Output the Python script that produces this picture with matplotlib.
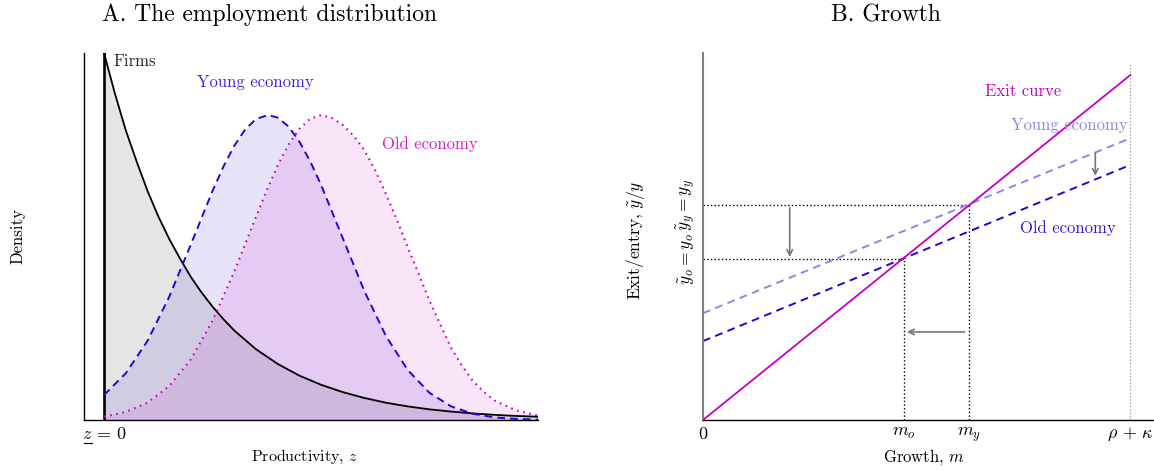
import numpy as np
import matplotlib
matplotlib.use("Agg")
import matplotlib.pyplot as plt
from matplotlib.lines import Line2D

plt.rcParams['font.family'] = 'serif'
plt.rcParams['font.serif'] = ['cmr10', 'DejaVu Serif']
plt.rcParams['mathtext.fontset'] = 'cm'
plt.rcParams['axes.formatter.use_mathtext'] = True

# ---- panel A: densities ----
firms_z = [0.0, 0.25, 0.5, 0.75, 1.0, 1.25, 1.5, 1.75, 2.0, 2.25, 2.5, 2.75,
           3.0, 3.5, 4.0, 4.5, 5.0, 5.5, 6.0, 6.5, 7.0, 7.5, 8.0, 8.5, 9.0,
           9.5, 10.0]
firms_d = [1.0, 0.89, 0.79, 0.705, 0.625, 0.555, 0.494, 0.44, 0.39, 0.347,
           0.309, 0.275, 0.244, 0.193, 0.153, 0.121, 0.096, 0.076, 0.06,
           0.047, 0.037, 0.029, 0.023, 0.018, 0.014, 0.011, 0.009]

young_z = [0.0, 0.5, 1.0, 1.5, 2.0, 2.5, 2.75, 3.0, 3.25, 3.5, 3.78, 4.0,
           4.25, 4.5, 4.75, 5.0, 5.5, 6.0, 6.5, 7.0, 7.5, 8.0, 8.5, 9.0,
           9.5, 10.0]
young_d = [0.068, 0.127, 0.215, 0.335, 0.478, 0.624, 0.69, 0.747, 0.791,
           0.82, 0.831, 0.824, 0.8, 0.759, 0.705, 0.641, 0.496, 0.351, 0.228,
           0.136, 0.074, 0.037, 0.017, 0.007, 0.003, 0.001]

old_z = [0.0, 0.5, 1.0, 1.5, 2.0, 2.5, 3.0, 3.25, 3.5, 3.75, 4.0, 4.25, 4.5,
         4.75, 5.01, 5.25, 5.5, 5.75, 6.0, 6.25, 6.5, 6.75, 7.0, 7.25, 7.5,
         7.75, 8.0, 8.25, 8.5, 8.75, 9.0, 9.5, 10.0]
old_d = [0.009, 0.022, 0.047, 0.092, 0.165, 0.27, 0.404, 0.478, 0.553, 0.626,
         0.693, 0.75, 0.793, 0.821, 0.831, 0.823, 0.804, 0.775, 0.735, 0.68,
         0.615, 0.545, 0.47, 0.398, 0.325, 0.26, 0.196, 0.148, 0.106, 0.077,
         0.053, 0.026, 0.012]

# ---- panel B: lines and equilibria ----
m_ends = [0.0, 1.0]
exit_y = [0.0, 0.940]
young_y = [0.291, 0.768]
old_y = [0.215, 0.695]
m_o, y_o = 0.4696, 0.440
m_y, y_y = 0.6215, 0.586
rho_kappa = 1.0

blue = '#2c00d4'
magenta = '#c400c4'
lightpurple = '#9483e6'

fig = plt.figure(figsize=(11.54, 4.70), dpi=100)
ax1 = fig.add_axes([84/1154, 50/470, 454/1154, 367/470])
ax2 = fig.add_axes([703/1154, 50/470, 451/1154 - 0.0005, 367/470])

# panel A
ax1.fill_between(firms_z, firms_d, color='#808080', alpha=0.2, lw=0)
ax1.fill_between(young_z, young_d, color='#4020d0', alpha=0.12, lw=0)
ax1.fill_between(old_z, old_d, color='#c000c0', alpha=0.1, lw=0)
ax1.plot(firms_z, firms_d, color='black', lw=1.3)
ax1.plot([0, 0], [0, firms_d[0]], color='black', lw=1.9)
ax1.plot(young_z, young_d, color=blue, lw=1.4, ls=(0, (4, 2.6)))
ax1.plot(old_z, old_d, color=magenta, lw=1.5, ls=(0, (0.8, 2.2)))

ax1.text(0.207, 0.978, 'Firms', color='#222222', fontsize=12, va='center', ha='left')
ax1.text(3.48, 0.921, 'Young economy', color='#4a22d0', fontsize=12, ha='center', va='center')
ax1.text(7.51, 0.752, 'Old economy', color='#cc22cc', fontsize=12, ha='center', va='center')

ax1.set_xlim(-0.461, 10)
ax1.set_ylim(0, 1)
ax1.set_xticks([0])
ax1.set_xticklabels([r'$z\,=\,0$'], fontsize=13)
ax1.set_yticks([])
ax1.tick_params(axis='x', length=0, pad=4)
for s in ['top', 'right']:
    ax1.spines[s].set_visible(False)
ax1.spines['left'].set_linewidth(1.0)
ax1.spines['bottom'].set_linewidth(1.0)
ax1.set_xlabel(r'Productivity, $z$', fontsize=11.5)
ax1.xaxis.set_label_coords(0.487, -0.075)
ax1.set_ylabel('Density', fontsize=12)
ax1.yaxis.set_label_coords(-0.13, 0.5)
# underline under the z of the tick label
fig.add_artist(Line2D([84/1154, 92/1154], [27/470, 27/470], color='black', lw=0.8))

# panel B
ax2.plot([rho_kappa, rho_kappa], [0, 0.975], color='#999999', lw=0.9, ls=':')
ax2.plot([0, m_y], [y_y, y_y], color='black', lw=1.0, ls=':')
ax2.plot([0, m_o], [y_o, y_o], color='black', lw=1.0, ls=':')
ax2.plot([m_y, m_y], [0, y_y], color='black', lw=1.0, ls=':')
ax2.plot([m_o, m_o], [0, y_o], color='black', lw=1.0, ls=':')
ax2.plot(m_ends, young_y, color=lightpurple, lw=1.4, ls=(0, (4, 2.8)))
ax2.plot(m_ends, old_y, color=blue, lw=1.4, ls=(0, (4, 2.8)))
ax2.plot(m_ends, exit_y, color=magenta, lw=1.3)

arrow = dict(arrowstyle='->', color='#777777', lw=1.2, shrinkA=0, shrinkB=0)
ax2.annotate('', xy=(0.203, 0.444), xytext=(0.203, 0.578), arrowprops=arrow)
ax2.annotate('', xy=(0.477, 0.240), xytext=(0.612, 0.240), arrowprops=arrow)
ax2.annotate('', xy=(0.918, 0.665), xytext=(0.918, 0.728), arrowprops=arrow)

ax2.text(0.75, 0.896, 'Exit curve', color=magenta, fontsize=12, ha='center', va='center')
ax2.text(0.857, 0.804, 'Young economy', color=lightpurple, fontsize=12, ha='center', va='center')
ax2.text(0.853, 0.523, 'Old economy', color='#3a18d8', fontsize=12, ha='center', va='center')

ax2.set_xlim(0, 1.054)
ax2.set_ylim(0, 1)
ax2.set_xticks([0, m_o, m_y, rho_kappa])
ax2.set_xticklabels(['$0$', '$m_o$', '$m_y$', r'$\rho\,+\,\kappa$'], fontsize=13)
ax2.set_yticks([y_o, y_y])
ax2.set_yticklabels([r'$\tilde{y}_o = y_o$', r'$\tilde{y}_y = y_y$'],
                    fontsize=12.5, rotation=90, va='center')
ax2.tick_params(length=0, pad=4)
for s in ['top', 'right']:
    ax2.spines[s].set_visible(False)
ax2.spines['left'].set_color('#808080')
ax2.spines['left'].set_linewidth(1.5)
ax2.spines['bottom'].set_linewidth(1.0)
ax2.set_xlabel(r'Growth, $m$', fontsize=12)
ax2.xaxis.set_label_coords(0.49, -0.075)
ax2.set_ylabel(r'Exit/entry, $\tilde{y}/y$', fontsize=12.5)
ax2.yaxis.set_label_coords(-0.124, 0.49)

fig.text(269/1154, 455/470, 'A. The employment distribution', fontsize=17,
         ha='center', va='center')
fig.text(886/1154, 455/470, 'B. Growth', fontsize=17, ha='center', va='center')

fig.savefig('out.png', dpi=100)
